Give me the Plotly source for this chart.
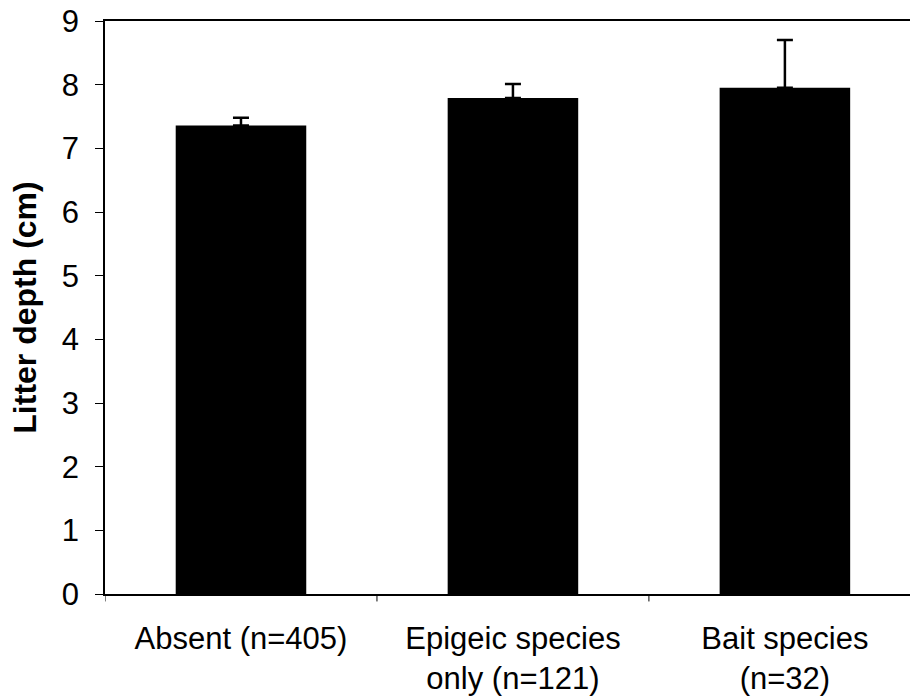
import plotly.graph_objects as go

categories = ["Absent (n=405)", "Epigeic species<br>only (n=121)", "Bait species<br>(n=32)"]
means = [7.36, 7.79, 7.95]
errors_up = [0.12, 0.22, 0.75]
y_ticks = [0, 1, 2, 3, 4, 5, 6, 7, 8, 9]

FONT = "Liberation Sans, Arial, sans-serif"

fig = go.Figure()
fig.add_trace(go.Bar(
    x=[0, 1, 2],
    y=means,
    width=0.48,
    marker=dict(color="black", line=dict(width=0)),
    error_y=dict(type="data", symmetric=False, array=errors_up,
                 arrayminus=[0, 0, 0], color="black", thickness=2.5, width=8),
))

fig.update_layout(
    width=910, height=700,
    margin=dict(l=105, r=0, t=21, b=106),
    plot_bgcolor="white", paper_bgcolor="white",
    showlegend=False,
    font=dict(family=FONT, color="black", size=31),
    xaxis=dict(
        range=[-0.5, 2.46],
        tickmode="array", tickvals=[0, 1, 2], ticktext=categories,
        showline=True, linecolor="black", linewidth=1.5, mirror=True,
        ticks="", showgrid=False, zeroline=False,
        tickfont=dict(size=31, family=FONT, color="black"),
        ticklabelstandoff=16,
    ),
    yaxis=dict(
        range=[0, 9], tickvals=y_ticks,
        showline=True, linecolor="black", linewidth=1.5,
        ticks="outside", ticklen=8, tickcolor="black", tickwidth=1,
        showgrid=False, zeroline=False,
        tickfont=dict(size=31, family=FONT, color="black"),
        ticklabelstandoff=10,
        title=dict(text="<b>Litter depth (cm)</b>", font=dict(size=32, family=FONT, color="black"), standoff=16),
    ),
)

# category boundary ticks on the x axis
for xb in [-0.5, 0.5, 1.5]:
    fig.add_shape(type="line", xref="x", yref="paper", x0=xb, x1=xb, y0=0, y1=-0.013,
                  line=dict(color="black", width=1))

fig.write_html("out.html")
